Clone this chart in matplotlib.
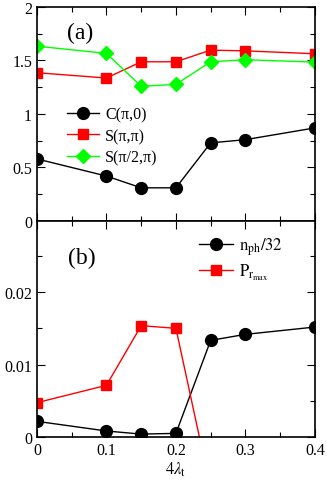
import matplotlib
matplotlib.use("Agg")
import matplotlib.pyplot as plt
from matplotlib.ticker import MultipleLocator, FuncFormatter

plt.rcParams['font.family'] = ['Liberation Serif', 'DejaVu Serif']
plt.rcParams['mathtext.fontset'] = 'stix'

# Data
x = [0.0, 0.1, 0.15, 0.2, 0.25, 0.3, 0.4]
C_pi0 = [0.58, 0.42, 0.31, 0.31, 0.73, 0.76, 0.87]
S_pipi = [1.386, 1.336, 1.488, 1.488, 1.597, 1.59, 1.563]
S_pi2pi = [1.634, 1.566, 1.259, 1.277, 1.488, 1.507, 1.485]

n_ph = [0.00216, 0.00083, 0.0004, 0.0005, 0.01333, 0.01416, 0.01517]
x_p = [0.0, 0.1, 0.15, 0.2, 0.25]
P_rmax = [0.00474, 0.00713, 0.01536, 0.01499, -0.0072]

fig = plt.figure(figsize=(3.27, 4.85), dpi=100)
ax1 = fig.add_axes([0.113, 0.5423, 0.85, 0.4412])
ax2 = fig.add_axes([0.113, 0.0969, 0.85, 0.4454])

ax1.plot(x, C_pi0, '-o', color='black', lw=1, ms=8.5, label='C(π,0)')
ax1.plot(x, S_pipi, '-s', color='red', mec='red', lw=1, ms=7.5, label='S(π,π)')
ax1.plot(x, S_pi2pi, '-D', color='#00ff00', mec='#00ff00', lw=1, ms=7, label='S(π/2,π)')
ax1.set_xlim(0, 0.4)
ax1.set_ylim(0, 2)
ax1.yaxis.set_major_locator(MultipleLocator(0.5))
ax1.yaxis.set_minor_locator(MultipleLocator(0.25))
ax1.xaxis.set_major_locator(MultipleLocator(0.1))
ax1.xaxis.set_minor_locator(MultipleLocator(0.05))
ax1.yaxis.set_major_formatter(FuncFormatter(lambda v, p: ('%g' % v)))
ax1.tick_params(labelbottom=False)
ax1.text(0.043, 1.71, '(a)', fontsize=17)
ax1.legend(loc='upper left', bbox_to_anchor=(0.085, 0.565), frameon=False,
           fontsize=11.5, handlelength=2.0, labelspacing=0.35, borderaxespad=0,
           handletextpad=0.4)

ax2.plot(x, n_ph, '-o', color='black', lw=1, ms=8.5, label=r'$\mathrm{n_{ph}/32}$')
ax2.plot(x_p, P_rmax, '-s', color='red', mec='red', lw=1, ms=7.5, label=r'$\mathrm{P_{r_{max}}}$')
ax2.set_xlim(0, 0.4)
ax2.set_ylim(0, 0.0298)
ax2.yaxis.set_major_locator(MultipleLocator(0.01))
ax2.yaxis.set_minor_locator(MultipleLocator(0.005))
ax2.xaxis.set_major_locator(MultipleLocator(0.1))
ax2.xaxis.set_minor_locator(MultipleLocator(0.05))
ax2.yaxis.set_major_formatter(FuncFormatter(lambda v, p: '' if v > 0.025 else ('%g' % round(v, 4))))
ax2.xaxis.set_major_formatter(FuncFormatter(lambda v, p: '%g' % round(v, 2)))
ax2.set_xlabel(r'$4\lambda_\mathrm{t}$', fontsize=12, labelpad=1)
ax2.text(0.045, 0.024, '(b)', fontsize=17)
ax2.legend(loc='upper left', bbox_to_anchor=(0.56, 0.965), frameon=False,
           fontsize=12, handlelength=2.0, labelspacing=0.3, borderaxespad=0,
           handletextpad=0.4)

for ax in (ax1, ax2):
    ax.tick_params(which='both', direction='in', top=True, right=True, labelsize=11.5)
    ax.tick_params(which='major', length=6, width=0.8)
    ax.tick_params(which='minor', length=3.5, width=0.8)
    for s in ax.spines.values():
        s.set_linewidth(1.2)

fig.savefig('out.png', dpi=100)
